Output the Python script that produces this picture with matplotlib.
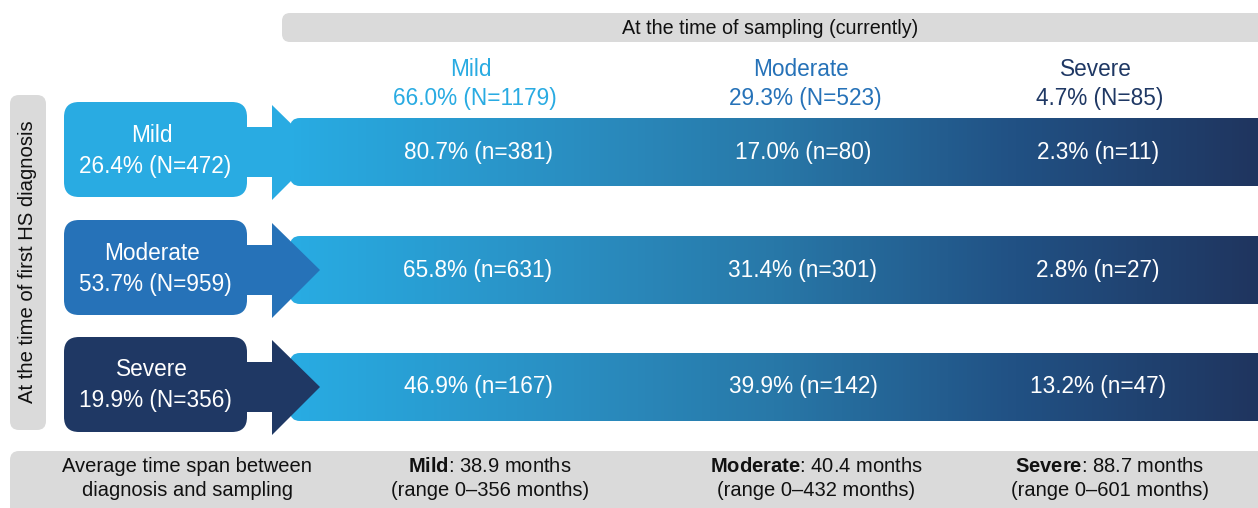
import numpy as np
import matplotlib.pyplot as plt
from matplotlib.patches import FancyBboxPatch, Polygon
from matplotlib.colors import LinearSegmentedColormap

plt.rcParams['font.family'] = ['Liberation Sans', 'DejaVu Sans']
plt.rcParams['mathtext.fontset'] = 'custom'
plt.rcParams['mathtext.rm'] = 'Liberation Sans'
plt.rcParams['mathtext.bf'] = 'Liberation Sans:bold'

# data
severity = ["Mild", "Moderate", "Severe"]
current_pct = [66.0, 29.3, 4.7]
current_n = [1179, 523, 85]
diag_pct = [26.4, 53.7, 19.9]
diag_n = [472, 959, 356]
trans_pct = [[80.7, 17.0, 2.3],
             [65.8, 31.4, 2.8],
             [46.9, 39.9, 13.2]]
trans_n = [[381, 80, 11],
           [631, 301, 27],
           [167, 142, 47]]
mean_months = [38.9, 40.4, 88.7]
max_months = [356, 432, 601]

sev_colors = ["#29abe2", "#2672b8", "#1f3864"]
gray = "#dadada"
band_cmap = LinearSegmentedColormap.from_list(
    "band", [(0, "#28ace3"), (0.3, "#2a8dc0"), (0.5, "#2878a8"),
             (0.75, "#215184"), (1.0, "#1f355f")])

# layout (pixel units)
W, H = 1258, 508
row_y = [152, 270, 387]
col_x = [475, 805, 1100]
foot_x = [490, 816, 1110]
fs_big = 16.3

fig = plt.figure(figsize=(W / 100, H / 100), dpi=100)
ax = fig.add_axes([0, 0, 1, 1])
ax.set_xlim(0, W)
ax.set_ylim(H, 0)
ax.axis('off')

# gray header / side / footer bars
ax.add_patch(FancyBboxPatch((282, 13), 1000, 29, boxstyle="round,pad=0,rounding_size=8",
                            fc=gray, ec='none'))
ax.text(770, 28, "At the time of sampling (currently)", ha='center', va='center',
        fontsize=14.2, color='#111111')
ax.add_patch(FancyBboxPatch((10, 95), 36, 335, boxstyle="round,pad=0,rounding_size=9",
                            fc=gray, ec='none'))
ax.text(28, 262, "At the time of first HS diagnosis", ha='center', va='center',
        rotation=90, fontsize=14.6, color='#111111')
ax.add_patch(FancyBboxPatch((10, 451), 1300, 80, boxstyle="round,pad=0,rounding_size=9",
                            fc=gray, ec='none'))

# column headers
for i, name in enumerate(severity):
    ax.text(col_x[i] - 4, 69, name, ha='center', va='center', fontsize=fs_big,
            color=sev_colors[i])
    ax.text(col_x[i], 99, f"{current_pct[i]:.1f}% (N={current_n[i]})", ha='center',
            va='center', fontsize=fs_big, color=sev_colors[i])

grad = np.linspace(0, 1, 256).reshape(1, -1)
for r, name in enumerate(severity):
    cy = row_y[r]
    # gradient band
    band = FancyBboxPatch((290, cy - 34), 1000, 68, boxstyle="round,pad=0,rounding_size=10",
                          fc='none', ec='none')
    ax.add_patch(band)
    im = ax.imshow(grad, cmap=band_cmap, aspect='auto', extent=[290, W, cy + 34, cy - 34],
                   zorder=2 if r == 0 else 1)
    im.set_clip_path(band)

    # arrow (box + neck + head)
    ax.add_patch(FancyBboxPatch((64, cy - 50), 183, 95, boxstyle="round,pad=0,rounding_size=15",
                                fc=sev_colors[r], ec='none', zorder=1.5))
    ax.add_patch(Polygon([(240, cy - 25), (272, cy - 25), (272, cy - 47), (320, cy),
                          (272, cy + 48), (272, cy + 25), (240, cy + 25)],
                         closed=True, fc=sev_colors[r], ec='none', zorder=1.5))
    ax.text(152, cy - 17, name, ha='center', va='center', fontsize=fs_big, color='white',
            zorder=3)
    ax.text(155, cy + 14, f"{diag_pct[r]:.1f}% (N={diag_n[r]})", ha='center', va='center',
            fontsize=fs_big, color='white', zorder=3)

    for c in range(3):
        ax.text(col_x[c] + (3 if c == 0 else -2), cy,
                f"{trans_pct[r][c]:.1f}% (n={trans_n[r][c]})",
                ha='center', va='center', fontsize=fs_big, color='white', zorder=3)

# footer
ax.text(187, 467, "Average time span between", ha='center', va='center', fontsize=14.5,
        color='#111111')
ax.text(187, 491, "diagnosis and sampling", ha='center', va='center', fontsize=14.5,
        color='#111111')
for i, name in enumerate(severity):
    ax.text(foot_x[i], 467, r"$\mathbf{" + name + "}$" + f": {mean_months[i]} months",
            ha='center', va='center', fontsize=14.5, color='#111111')
    ax.text(foot_x[i], 491, f"(range 0\u2013{max_months[i]} months)", ha='center',
            va='center', fontsize=14.5, color='#111111')

fig.savefig("out.png", dpi=100)
